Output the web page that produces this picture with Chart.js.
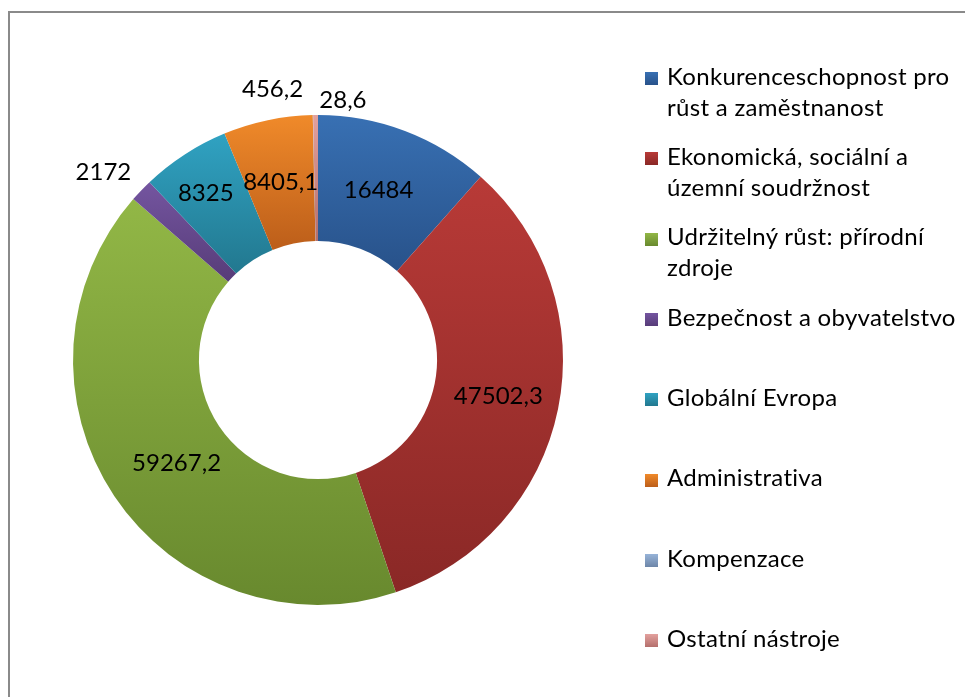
<!DOCTYPE html>
<html><head><meta charset="utf-8">
<script src="https://cdn.jsdelivr.net/npm/chart.js@4.4.1/dist/chart.umd.min.js"></script>
<style>
html,body{margin:0;padding:0;background:#fff;overflow:hidden;}
#wrap{position:relative;width:965px;height:697px;overflow:hidden;}
#frame{position:absolute;left:8px;top:11px;width:1000px;height:800px;border-top:2px solid #8a8a8a;border-left:2px solid #8a8a8a;}
canvas{position:absolute;left:0;top:0;}
#legend{position:absolute;left:0;top:0;font-family:Lato,'Open Sans',sans-serif;font-size:24px;letter-spacing:0.3px;color:#000;}
.item{position:absolute;left:645px;width:320px;}
.sw{position:absolute;left:0;width:13px;height:13px;}
.tx{position:absolute;left:22px;width:300px;line-height:31px;}
</style></head>
<body><div id="wrap"><div id="frame"></div><canvas id="c" width="965" height="697"></canvas><div id="legend"></div></div>
<script>
// ---- data ----
const categories = [
  'Konkurenceschopnost pro růst a zaměstnanost',
  'Ekonomická, sociální a územní soudržnost',
  'Udržitelný růst: přírodní zdroje',
  'Bezpečnost a obyvatelstvo',
  'Globální Evropa',
  'Administrativa',
  'Kompenzace',
  'Ostatní nástroje'
];
const values = [16484, 47502.3, 59267.2, 2172, 8325, 8405.1, 28.6, 456.2];
const valueLabels = ['16484', '47502,3', '59267,2', '2172', '8325', '8405,1', '28,6', '456,2'];

// ---- style ----
const topColors    = ['#3870b3', '#b83a37', '#92b746', '#7455a0', '#30a2c2', '#f08a2a', '#97b3d8', '#e3a19e'];
const bottomColors = ['#28528a', '#8a2826', '#68892e', '#573c78', '#22788f', '#bc5e1a', '#6d86a8', '#b46f6c'];
const CUTOUT = 0.486;
// label placement: radial position (0 = inner edge, 1 = outer edge, >1 outside) and pixel nudges
const labelRadial = [0.5, 0.5, 0.5, 1.35, 0.65, 0.5, 1.0, 1.0];
const labelNudge  = [[-4,0], [2,0], [10,2], [-6,12], [-3,2], [0,0], [30,-15], [-43,-26]];

function sliceGradient(c) {
  const chart = c.chart, area = chart.chartArea, i = c.dataIndex;
  if (!area) return topColors[i];
  const cx = (area.left + area.right) / 2, cy = (area.top + area.bottom) / 2;
  const R = Math.min(area.right - area.left, area.bottom - area.top) / 2;
  const r = R * CUTOUT;
  const total = values.reduce((a, b) => a + b, 0);
  let a0 = -Math.PI / 2;
  for (let k = 0; k < i; k++) a0 += values[k] / total * 2 * Math.PI;
  const a1 = a0 + values[i] / total * 2 * Math.PI;
  const ys = [cy + R * Math.sin(a0), cy + R * Math.sin(a1), cy + r * Math.sin(a0), cy + r * Math.sin(a1)];
  [Math.PI / 2, 3 * Math.PI / 2, -Math.PI / 2].forEach(a => { if (a >= a0 && a <= a1) ys.push(cy + R * Math.sin(a)); });
  const y0 = Math.min(...ys), y1 = Math.max(...ys);
  const g = chart.ctx.createLinearGradient(0, y0, 0, Math.max(y1, y0 + 1));
  g.addColorStop(0, topColors[i]);
  g.addColorStop(1, bottomColors[i]);
  return g;
}

const labelPlugin = {
  id: 'sliceLabels',
  afterDatasetsDraw(chart) {
    const ctx = chart.ctx;
    const meta = chart.getDatasetMeta(0);
    ctx.save();
    ctx.font = '24px Lato, "Open Sans", sans-serif';
    ctx.fillStyle = '#000';
    ctx.textAlign = 'center';
    ctx.textBaseline = 'middle';
    meta.data.forEach((el, i) => {
      const p = el.getProps(['x', 'y', 'startAngle', 'endAngle', 'innerRadius', 'outerRadius'], true);
      const mid = (p.startAngle + p.endAngle) / 2;
      const rr = p.innerRadius + (p.outerRadius - p.innerRadius) * labelRadial[i];
      const x = p.x + Math.cos(mid) * rr + labelNudge[i][0];
      const y = p.y + Math.sin(mid) * rr + labelNudge[i][1];
      ctx.fillText(valueLabels[i], x, y);
    });
    ctx.restore();
  }
};

new Chart(document.getElementById('c'), {
  type: 'doughnut',
  data: {
    labels: categories,
    datasets: [{
      data: values,
      backgroundColor: sliceGradient,
      borderWidth: 0,
      hoverOffset: 0
    }]
  },
  options: {
    responsive: false,
    animation: false,
    cutout: (CUTOUT * 100) + '%',
    layout: { padding: { left: 73, top: 115, right: 402, bottom: 92 } },
    plugins: { legend: { display: false }, tooltip: { enabled: false } }
  },
  plugins: [labelPlugin]
});

// HTML legend
const legend = document.getElementById('legend');
categories.forEach((name, i) => {
  const baseline = 85 + 80.3 * i;
  const item = document.createElement('div');
  item.className = 'item';
  item.style.top = '0px';
  const sw = document.createElement('div');
  sw.className = 'sw';
  sw.style.top = (baseline - 13) + 'px';
  sw.style.background = 'linear-gradient(' + topColors[i] + ',' + bottomColors[i] + ')';
  const tx = document.createElement('div');
  tx.className = 'tx';
  tx.style.top = (baseline - 25.3) + 'px';
  tx.textContent = name;
  item.appendChild(sw);
  item.appendChild(tx);
  legend.appendChild(item);
});
</script>
</body></html>
